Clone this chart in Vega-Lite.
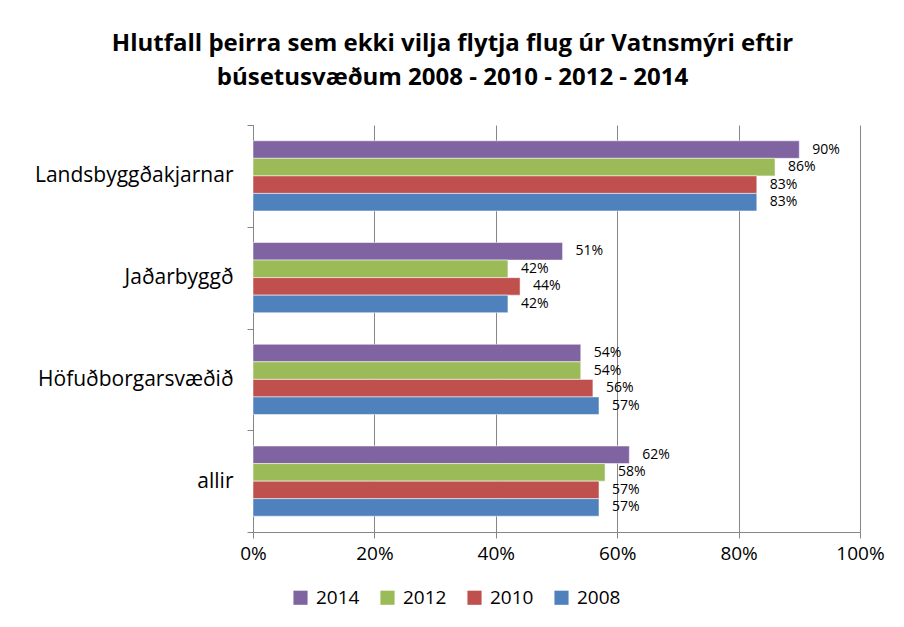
{
  "$schema": "https://vega.github.io/schema/vega-lite/v6.json",
  "width": 607,
  "height": 407,
  "autosize": {"type": "none"},
  "padding": {"left": 253, "top": 125, "right": 44, "bottom": 95},
  "background": "white",
  "title": {
    "text": ["Hlutfall þeirra sem ekki vilja flytja flug úr Vatnsmýri eftir", "búsetusvæðum 2008 - 2010 - 2012 - 2014"],
    "font": "Open Sans",
    "fontSize": 24,
    "fontWeight": "bold",
    "color": "#000000",
    "anchor": "middle",
    "dx": -104,
    "offset": 24,
    "lineHeight": 34
  },
  "config": {
    "view": {"stroke": null},
    "font": "Open Sans"
  },
  "data": {
    "values": [
      {"area": "Landsbyggðakjarnar", "year": "2014", "value": 0.90},
      {"area": "Landsbyggðakjarnar", "year": "2012", "value": 0.86},
      {"area": "Landsbyggðakjarnar", "year": "2010", "value": 0.83},
      {"area": "Landsbyggðakjarnar", "year": "2008", "value": 0.83},
      {"area": "Jaðarbyggð", "year": "2014", "value": 0.51},
      {"area": "Jaðarbyggð", "year": "2012", "value": 0.42},
      {"area": "Jaðarbyggð", "year": "2010", "value": 0.44},
      {"area": "Jaðarbyggð", "year": "2008", "value": 0.42},
      {"area": "Höfuðborgarsvæðið", "year": "2014", "value": 0.54},
      {"area": "Höfuðborgarsvæðið", "year": "2012", "value": 0.54},
      {"area": "Höfuðborgarsvæðið", "year": "2010", "value": 0.56},
      {"area": "Höfuðborgarsvæðið", "year": "2008", "value": 0.57},
      {"area": "allir", "year": "2014", "value": 0.62},
      {"area": "allir", "year": "2012", "value": 0.58},
      {"area": "allir", "year": "2010", "value": 0.57},
      {"area": "allir", "year": "2008", "value": 0.57}
    ]
  },
  "encoding": {
    "y": {
      "field": "area",
      "type": "nominal",
      "sort": ["Landsbyggðakjarnar", "Jaðarbyggð", "Höfuðborgarsvæðið", "allir"],
      "scale": {"paddingInner": 0, "paddingOuter": 0},
      "axis": {
        "title": null,
        "tickBand": "extent",
        "domainColor": "#868686",
        "tickColor": "#868686",
        "tickSize": 6,
        "labelFontSize": 21,
        "labelLimit": 0,
        "labelColor": "#000000",
        "labelPadding": 14,
        "labelFont": "Open Sans"
      }
    },
    "yOffset": {
      "field": "year",
      "type": "nominal",
      "sort": ["2014", "2012", "2010", "2008"],
      "scale": {"paddingInner": 0, "paddingOuter": 0.9}
    },
    "x": {
      "field": "value",
      "type": "quantitative",
      "scale": {"domain": [0, 1]},
      "axis": {
        "title": null,
        "format": ".0%",
        "values": [0, 0.2, 0.4, 0.6, 0.8, 1],
        "labelFlush": false,
        "grid": true,
        "gridColor": "#868686",
        "domainColor": "#868686",
        "tickColor": "#868686",
        "tickSize": 6,
        "labelFontSize": 19,
        "labelColor": "#000000",
        "labelPadding": 6,
        "labelFont": "Open Sans"
      }
    }
  },
  "layer": [
    {
      "mark": {"type": "bar", "stroke": "#ffffff", "strokeOpacity": 0.5, "strokeWidth": 1},
      "encoding": {
        "color": {
          "field": "year",
          "type": "nominal",
          "sort": ["2014", "2012", "2010", "2008"],
          "scale": {"domain": ["2014", "2012", "2010", "2008"], "range": ["#8064A2", "#9BBB59", "#C0504D", "#4F81BD"]},
          "legend": {
            "title": null,
            "orient": "none",
            "direction": "horizontal",
            "legendX": 38,
            "legendY": 463,
            "symbolType": "square",
            "symbolSize": 200,
            "symbolStrokeWidth": 0,
            "labelFontSize": 19,
            "labelColor": "#000000",
            "labelFont": "Open Sans",
            "columnPadding": 18,
            "labelOffset": 6
          }
        }
      }
    },
    {
      "mark": {"type": "text", "align": "left", "dx": 13, "fontSize": 14, "color": "#000000", "font": "Open Sans"},
      "encoding": {
        "text": {"field": "value", "type": "quantitative", "format": ".0%"}
      }
    }
  ]
}
